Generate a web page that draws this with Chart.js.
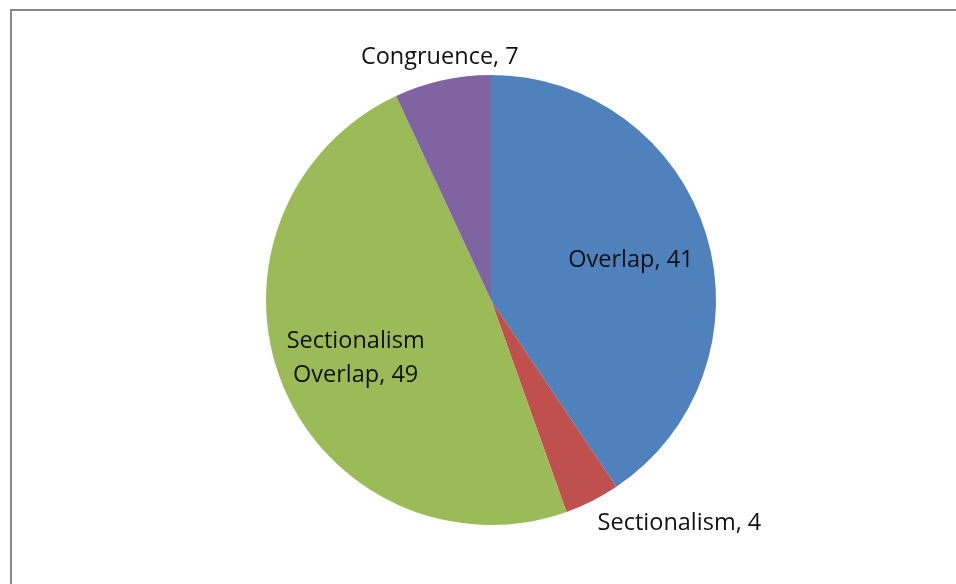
<!DOCTYPE html>
<html>
<head>
<meta charset="utf-8">
<script src="https://cdn.jsdelivr.net/npm/chart.js@4.4.1/dist/chart.umd.min.js"></script>
<style>
  html,body{margin:0;padding:0;background:#fff;}
  #wrap{position:relative;width:956px;height:584px;overflow:hidden;}
  #frame{position:absolute;left:10px;top:9px;width:1000px;height:700px;border-top:2px solid #888;border-left:2px solid #888;box-sizing:border-box;}
  #chart{position:absolute;left:0;top:0;}
</style>
</head>
<body>
<div id="wrap">
  <div id="frame"></div>
  <canvas id="chart" width="956" height="584"></canvas>
</div>
<script>
// pie data
const categories = ['Overlap', 'Sectionalism', 'Sectionalism\nOverlap', 'Congruence'];
const counts = [41, 4, 49, 7];
const sliceColors = ['#4F81BD', '#C0504D', '#9BBB59', '#8064A2'];

// labels: inside for big slices, outside (Excel style) for small ones
const pieLabels = {
  id: 'pieLabels',
  afterDatasetsDraw(chart){
    const ctx = chart.ctx;
    const meta = chart.getDatasetMeta(0);
    const total = counts.reduce((a,b)=>a+b,0);
    ctx.save();
    ctx.font = '23.5px "Open Sans", sans-serif';
    ctx.fillStyle = '#111';
    meta.data.forEach((arc, i) => {
      const p = arc.getProps(['x','y','startAngle','endAngle','outerRadius'], true);
      const mid = (p.startAngle + p.endAngle) / 2;
      const cs = Math.cos(mid), sn = Math.sin(mid);
      const lines = (categories[i] + ', ' + counts[i]).split('\n');
      const lh = 34;
      if(counts[i] / total > 0.15){
        const r = p.outerRadius * 0.65;
        const x = p.x + cs * r, y = p.y + sn * r + 3;
        ctx.textAlign = 'center';
        ctx.textBaseline = 'middle';
        lines.forEach((t, k) => ctx.fillText(t, x, y + (k - (lines.length-1)/2) * lh));
      } else {
        const r = p.outerRadius + 12;
        const x = p.x + cs * r, y = p.y + sn * r;
        ctx.textAlign = Math.abs(cs) < 0.3 ? 'center' : (cs > 0 ? 'left' : 'right');
        ctx.textBaseline = Math.abs(sn) < 0.3 ? 'middle' : (sn > 0 ? 'top' : 'bottom');
        lines.forEach((t, k) => ctx.fillText(t, x, y + k * lh));
      }
    });
    ctx.restore();
  }
};

new Chart(document.getElementById('chart').getContext('2d'), {
  type: 'pie',
  data: {
    labels: categories,
    datasets: [{ data: counts, backgroundColor: sliceColors, borderWidth: 0 }]
  },
  options: {
    responsive: false,
    animation: false,
    layout: { padding: { left: 266, right: 240, top: 75, bottom: 59 } },
    plugins: { legend: { display: false }, tooltip: { enabled: false } }
  },
  plugins: [pieLabels]
});
</script>
</body>
</html>
